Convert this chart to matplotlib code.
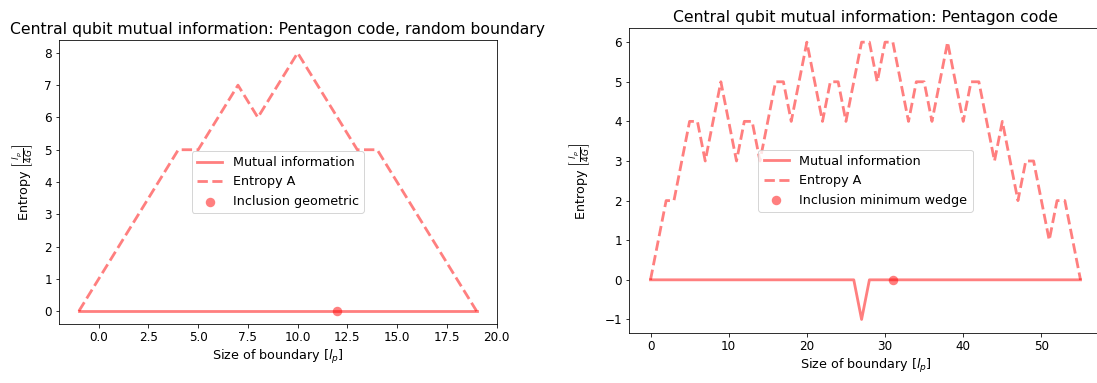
import matplotlib

matplotlib.use("Agg")
import matplotlib.pyplot as plt

# left panel: random boundary
left_size = list(range(-1, 20))
left_entropy = [0, 1, 2, 3, 4, 5, 5, 6, 7, 6, 7, 8, 7, 6, 5, 5, 4, 3, 2, 1, 0]
left_mutual = [0] * 21
left_incl_x = [12]
left_incl_y = [0]

# right panel: pentagon code
right_size = list(range(0, 56))
right_entropy = [0, 1, 2, 2, 3, 4, 4, 3, 4, 5, 4, 3, 4, 4, 3, 4, 5, 5, 4, 5,
                 6, 5, 4, 5, 5, 4, 5, 6, 6, 5, 6, 6, 5, 4, 5, 5, 4, 5, 6, 5,
                 4, 5, 5, 4, 3, 4, 3, 2, 3, 3, 2, 1, 2, 2, 1, 0]
right_mutual = [0] * 27 + [-1] + [0] * 28
right_incl_x = [31]
right_incl_y = [0]

plt.rcParams["font.size"] = 12
plt.rcParams["axes.titlesize"] = 15.6
plt.rcParams["axes.labelsize"] = 12.8
plt.rcParams["legend.fontsize"] = 12.8
fig = plt.figure(figsize=(1097 / 72, 383 / 72), dpi=72)

ax1 = fig.add_axes([59 / 1097, 59 / 383, 437.5 / 1097, 284 / 383])
ax1.plot(left_size, left_mutual, color="red", alpha=0.5, lw=2.8, label="Mutual information")
ax1.plot(left_size, left_entropy, "--", color="red", alpha=0.5, lw=2.8, label="Entropy A")
ax1.scatter(left_incl_x, left_incl_y, color="red", alpha=0.5, s=90, linewidths=0,
            label="Inclusion geometric")
ax1.set_title("Central qubit mutual information: Pentagon code, random boundary")
ax1.set_xlabel(r"Size of boundary [$l_p$]")
ax1.set_ylabel(r"Entropy $\left[\frac{l_p}{4G}\right]$", labelpad=9)
ax1.legend(loc="center")

ax2 = fig.add_axes([629 / 1097, 49.7 / 383, 473 / 1097, 305 / 383])
ax2.plot(right_size, right_mutual, color="red", alpha=0.5, lw=2.8, label="Mutual information")
ax2.plot(right_size, right_entropy, "--", color="red", alpha=0.5, lw=2.8, label="Entropy A")
ax2.scatter(right_incl_x, right_incl_y, color="red", alpha=0.5, s=90, linewidths=0,
            label="Inclusion minimum wedge")
ax2.set_title("Central qubit mutual information: Pentagon code")
ax2.set_xlabel(r"Size of boundary [$l_p$]")
ax2.set_ylabel(r"Entropy $\left[\frac{l_p}{4G}\right]$", labelpad=12)
ax2.legend(loc="center")

fig.savefig("out.png", dpi=72)
